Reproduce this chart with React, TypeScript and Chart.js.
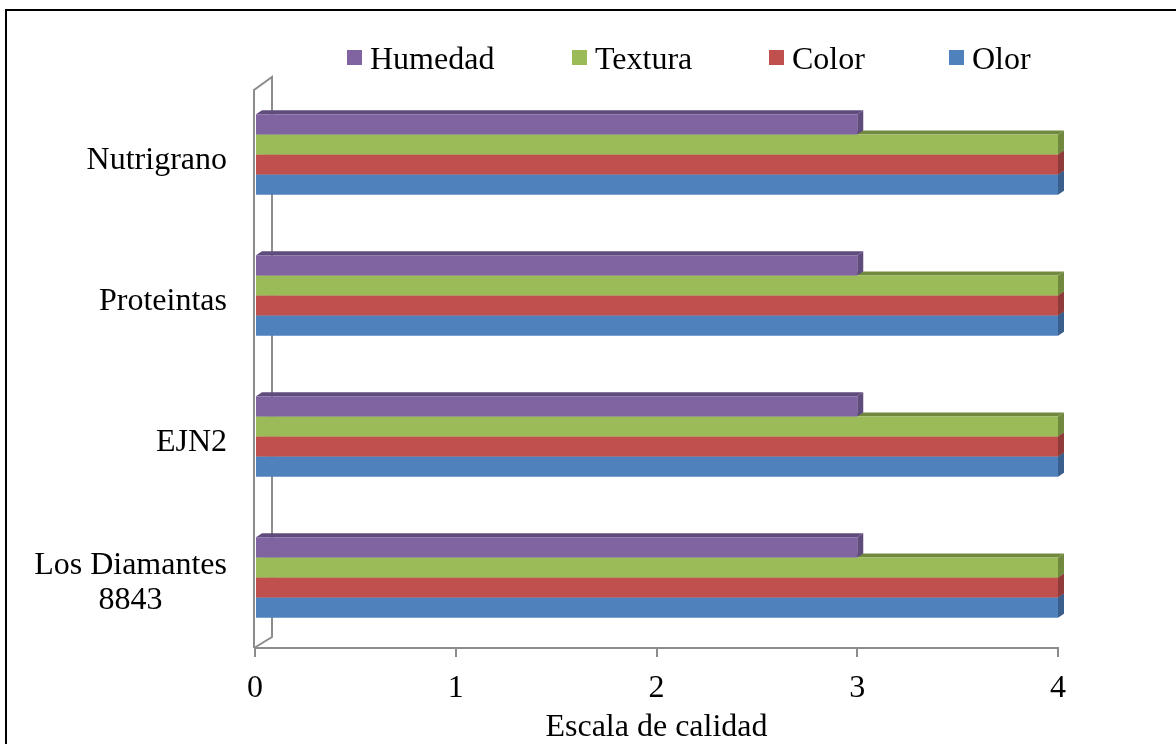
import React, { useEffect, useRef } from 'react';
import { Chart, registerables } from 'chart.js';

Chart.register(...registerables);

const categories: (string | string[])[] = ['Nutrigrano', 'Proteintas', 'EJN2', ['Los Diamantes', '8843']];
const seriesNames = ['Humedad', 'Textura', 'Color', 'Olor'];
const humedad = [3, 3, 3, 3];
const textura = [4, 4, 4, 4];
const color = [4, 4, 4, 4];
const olor = [4, 4, 4, 4];
const xTicks = [0, 1, 2, 3, 4];
const xTitle = 'Escala de calidad';

const FRONT = ['#8064A2', '#9BBB59', '#C0504D', '#4F81BD'];
const SIDE = ['#5F4B7C', '#71893F', '#8E3B39', '#3A5F8C'];
const FONT = "'Liberation Serif', 'Times New Roman', serif";
const LEGEND_X = [347, 572, 769, 949];

const framePlugin = {
  id: 'frame',
  beforeDraw(chart: any) {
    const ctx = chart.ctx;
    ctx.save();
    ctx.fillStyle = '#ffffff';
    ctx.fillRect(0, 0, chart.width, chart.height);
    ctx.fillStyle = '#000000';
    ctx.fillRect(6, 9, chart.width - 6, 2);
    ctx.fillRect(5, 9, 2, chart.height - 9);
    ctx.restore();
  },
};

const depthPlugin = {
  id: 'depth',
  beforeDatasetsDraw(chart: any) {
    const { ctx, chartArea } = chart;
    const xs = chart.scales.x;
    const x0 = xs.getPixelForValue(0);
    const { top, bottom } = chartArea;
    ctx.save();
    ctx.strokeStyle = '#8c8c8c';
    ctx.lineWidth = 2;
    ctx.beginPath();
    ctx.moveTo(x0 - 1, bottom);
    ctx.lineTo(x0 - 1, top + 6);
    ctx.lineTo(x0 + 17, top - 7);
    ctx.lineTo(x0 + 17, bottom - 11);
    ctx.lineTo(x0 - 1, bottom);
    ctx.stroke();
    const dx = 6;
    const dy = -4;
    for (let d = chart.data.datasets.length - 1; d >= 0; d--) {
      const meta = chart.getDatasetMeta(d);
      meta.data.forEach((el: any) => {
        const p = el.getProps(['x', 'y', 'base', 'height'], true);
        const yT = p.y - p.height / 2;
        const yB = p.y + p.height / 2;
        ctx.fillStyle = SIDE[d];
        ctx.beginPath();
        ctx.moveTo(p.base, yT);
        ctx.lineTo(p.base + dx, yT + dy);
        ctx.lineTo(p.x + dx, yT + dy);
        ctx.lineTo(p.x, yT);
        ctx.closePath();
        ctx.fill();
        ctx.beginPath();
        ctx.moveTo(p.x, yT);
        ctx.lineTo(p.x + dx, yT + dy);
        ctx.lineTo(p.x + dx, yB + dy);
        ctx.lineTo(p.x, yB);
        ctx.closePath();
        ctx.fill();
      });
    }
    ctx.restore();
  },
};

const labelsPlugin = {
  id: 'labelsAndLegend',
  afterDraw(chart: any) {
    const ctx = chart.ctx;
    const ys = chart.scales.y;
    ctx.save();
    ctx.font = `32px ${FONT}`;
    ctx.fillStyle = '#000000';
    ctx.textAlign = 'center';
    ctx.textBaseline = 'middle';
    const right = chart.chartArea.left - 28;
    chart.data.labels.forEach((lab: any, i: number) => {
      const lines: string[] = Array.isArray(lab) ? lab : [lab];
      const w = Math.max(...lines.map((l) => ctx.measureText(l).width));
      const cx = right - w / 2;
      const cy = ys.getPixelForValue(i) + 6;
      const lh = 35;
      lines.forEach((l, j) => ctx.fillText(l, cx, cy + (j - (lines.length - 1) / 2) * lh));
    });
    // legend
    ctx.textAlign = 'left';
    chart.data.datasets.forEach((ds: any, i: number) => {
      const bx = LEGEND_X[i];
      ctx.fillStyle = ds.backgroundColor;
      ctx.fillRect(bx, 50, 15, 15);
      ctx.fillStyle = '#000000';
      ctx.fillText(ds.label, bx + 23, 61);
    });
    ctx.restore();
  },
};

export default function App() {
  const ref = useRef<HTMLCanvasElement | null>(null);
  useEffect(() => {
    if (!ref.current) return;
    const values = [humedad, textura, color, olor];
    const chart = new Chart(ref.current, {
      type: 'bar',
      data: {
        labels: categories as any,
        datasets: seriesNames.map((name, i) => ({
          label: name,
          data: values[i],
          backgroundColor: FRONT[i],
          borderWidth: 0,
          categoryPercentage: 0.57,
          barPercentage: 1,
        })),
      },
      options: {
        indexAxis: 'y',
        animation: false,
        responsive: true,
        maintainAspectRatio: false,
        layout: { padding: { top: 84, right: 118, left: 0, bottom: 0 } },
        plugins: { legend: { display: false }, tooltip: { enabled: false } },
        scales: {
          x: {
            min: 0,
            max: 4,
            afterBuildTicks: (s: any) => {
              s.ticks = xTicks.map((v) => ({ value: v }));
            },
            ticks: { font: { family: FONT, size: 32 }, color: '#000000', padding: 12 },
            grid: { drawOnChartArea: false, drawTicks: true, tickLength: 9, color: '#8c8c8c', lineWidth: 2 },
            border: { display: true, color: '#8c8c8c', width: 2 },
            title: {
              display: true,
              text: xTitle,
              font: { family: FONT, size: 32, lineHeight: 1 },
              color: '#000000',
              padding: { top: 0, bottom: 0 },
            },
            afterFit: (s: any) => {
              s.height = 96;
            },
          },
          y: {
            ticks: { display: false },
            grid: { display: false },
            border: { display: false },
            afterFit: (s: any) => {
              s.width = 255;
            },
          },
        },
      } as any,
      plugins: [framePlugin, depthPlugin, labelsPlugin],
    });
    return () => chart.destroy();
  }, []);
  return (
    <div style={{ position: 'fixed', left: 0, top: 0, width: 1176, height: 744 }}>
      <canvas ref={ref} />
    </div>
  );
}
